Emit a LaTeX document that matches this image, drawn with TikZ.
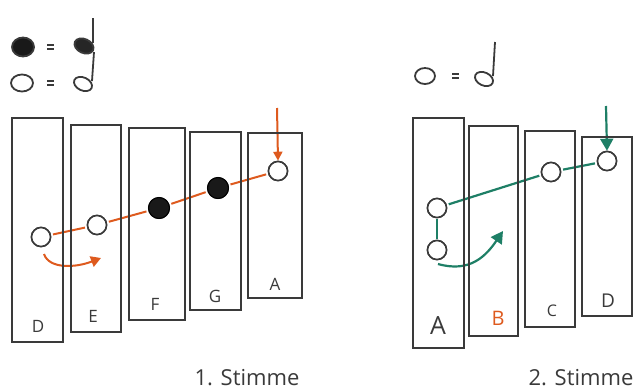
\documentclass[tikz,border=0pt]{standalone}
\usepackage{fontspec}
\setmainfont{Open Sans}
\usetikzlibrary{arrows.meta}
\definecolor{ink}{HTML}{3A3A3A}
\definecolor{rust}{HTML}{DE5A1E}
\definecolor{teal}{HTML}{1E7F66}
\tikzset{
  bar/.style={draw=ink, line width=1.5pt},
  key/.style={font=\fontsize{17}{17}\selectfont, text=ink, inner sep=0pt},
  opennote/.style={circle, draw=ink, fill=white, line width=1.6pt, minimum size=19pt, inner sep=0pt},
  fullnote/.style={circle, draw=black, fill=black!90, line width=1pt, minimum size=21pt, inner sep=0pt},
  redline/.style={draw=rust, line width=2pt},
  greenline/.style={draw=teal, line width=2.2pt},
  caption/.style={font=\fontsize{22}{22}\selectfont, text=ink, inner sep=0pt},
  legend/.style={draw=ink, line width=1.8pt},
}
\begin{document}
\begin{tikzpicture}[x=1pt, y=-1pt]
\useasboundingbox (0,0) rectangle (637,389);

% ---------- legend, first voice ----------
\draw[legend, fill=black!90] (23,47) ellipse [x radius=11, y radius=9.5];
\draw[legend] (47,45) -- (54,45) (47,49) -- (54,49);
\draw[legend, fill=black!85, rotate around={-25:(84,46)}] (84,46) ellipse [x radius=10, y radius=7];
\draw[legend] (93,43) -- (93,18);
\draw[legend] (22,83) ellipse [x radius=11, y radius=8.5];
\draw[legend] (47,81) -- (54,81) (47,85) -- (54,85);
\draw[legend, rotate around={-25:(83,84)}] (83,84) ellipse [x radius=9.5, y radius=6.5];
\draw[legend] (92,81) -- (94,52);

% ---------- legend, second voice ----------
\draw[legend] (425,76) ellipse [x radius=10, y radius=8];
\draw[legend] (452,74) -- (459,74) (452,78) -- (459,78);
\draw[legend, rotate around={-25:(484,79)}] (484,79) ellipse [x radius=9.5, y radius=6.5];
\draw[legend] (493,76) -- (495,42);

% ---------- first voice: notes ----------
\node[opennote] (d1) at (41,237) {};
\node[opennote] (e1) at (97,225) {};
\node[fullnote] (f1) at (159,208) {};
\node[fullnote] (g1) at (218,188) {};
\node[opennote] (a1) at (278,171) {};
\coordinate (a1top) at (277,108);
\coordinate (c1s) at (44,254);
\coordinate (c1e) at (101,258);

\draw[redline, shorten <=2pt, shorten >=2pt] (d1) -- (e1);
\draw[redline, shorten <=2pt, shorten >=2pt] (e1) -- (f1);
\draw[redline, shorten <=2pt, shorten >=2pt] (f1) -- (g1);
\draw[redline, shorten <=2pt, shorten >=2pt] (g1) -- (a1);
\draw[redline, -{Triangle[length=9pt,width=9pt]}] (a1top) -- (a1.north);
\draw[redline, -{Triangle[length=10pt,width=11pt]}] (c1s) .. controls (49,269) and (75,268) .. (c1e);

% ---------- first voice: bars ----------
\draw[bar] (12,118) rectangle (63,342);
\draw[bar] (71,125) rectangle (121,332);
\draw[bar] (129,128) rectangle (185,320);
\draw[bar] (190,132) rectangle (241,310);
\draw[bar] (248,133) rectangle (302,298);
\node[key] (kd1) at (38,326) {D};
\node[key] (ke1) at (93,316) {E};
\node[key] (kf1) at (155,304) {F};
\node[key] (kg1) at (215,296) {G};
\node[key] (ka1) at (275,284) {A};
\node[opennote] at (d1) {};
\node[opennote] at (e1) {};
\node[fullnote] at (f1) {};
\node[fullnote] at (g1) {};
\node[opennote] at (a1) {};

% ---------- second voice: notes ----------
\node[opennote] (a2u) at (437,208) {};
\node[opennote] (a2l) at (437,250) {};
\node[opennote] (c2) at (551,172) {};
\node[opennote] (d2) at (607,161) {};
\coordinate (d2top) at (606,106);
\coordinate (c2s) at (438,264);
\coordinate (c2e) at (503,231);

\draw[greenline, shorten <=2pt, shorten >=2pt] (a2u) -- (c2);
\draw[greenline, shorten <=2pt, shorten >=2pt] (c2) -- (d2);
\draw[greenline, shorten <=1pt, shorten >=1pt] (a2u) -- (a2l);
\draw[greenline, -{Triangle[length=12pt,width=13pt]}] (d2top) -- (d2.north);
\draw[greenline, -{Triangle[length=12pt,width=13pt]}] (c2s) .. controls (470,273) and (486,256) .. (c2e);

% ---------- second voice: bars ----------
\draw[bar] (413,118) rectangle (464,348);
\draw[bar] (469,126) rectangle (518,336);
\draw[bar] (525,131) rectangle (575,327);
\draw[bar] (582,137) rectangle (632,316);
\node[key, font=\fontsize{25}{25}\selectfont] (ka2) at (438,326) {A};
\node[key, text=rust, font=\fontsize{20}{20}\selectfont] (kb2) at (498,318) {B};
\node[key, font=\fontsize{16}{16}\selectfont] (kc2) at (552,311) {C};
\node[key, font=\fontsize{19}{19}\selectfont] (kd2) at (608,301) {D};
\node[opennote] at (a2u) {};
\node[opennote] at (a2l) {};
\node[opennote] at (c2) {};
\node[opennote] at (d2) {};

% ---------- captions ----------
\node[caption, anchor=base] (cap1) at (247,385) {1. Stimme};
\node[caption, anchor=base] (cap2) at (581,385) {2. Stimme};
\end{tikzpicture}
\end{document}
